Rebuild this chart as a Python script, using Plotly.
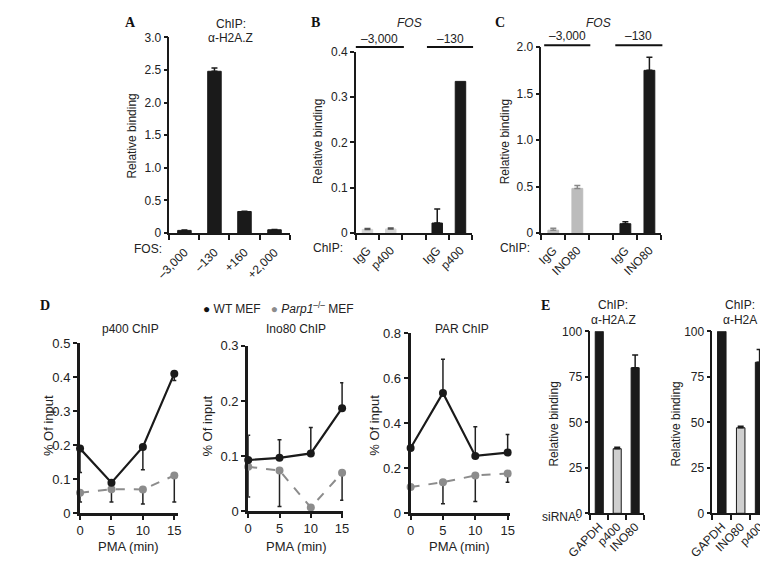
import plotly.graph_objects as go

W, H = 768, 561
def fx(p): return p / W
def fy(p): return 1 - p / H

SANS = "Liberation Sans, Arial, sans-serif"
SERIF = "Liberation Serif, Times New Roman, serif"
BLACK = "#1a1a1a"
LIGHT_B = "#d6d6d6"
LIGHT_C = "#bcbcbc"
LIGHT_E = "#cfcfcf"
GREY_LINE = "#8c8c8c"

# ---------------- data ----------------
a_labels = ["–3,000", "–130", "+160", "+2,000"]
a_vals = [0.04, 2.48, 0.33, 0.05]
a_err = [0.005, 0.05, 0.005, 0.005]

b_labels = ["IgG", "p400", "IgG", "p400"]
b_vals = [0.008, 0.009, 0.022, 0.335]
b_err = [0.002, 0.002, 0.031, 0.0]

c_labels = ["IgG", "INO80", "IgG", "INO80"]
c_vals = [0.03, 0.48, 0.10, 1.75]
c_err = [0.02, 0.03, 0.02, 0.14]

pma = [0, 5, 10, 15]
p400_wt = [0.19, 0.09, 0.195, 0.41]
p400_wt_errm = [0.07, 0.0, 0.067, 0.02]
p400_parp = [0.06, 0.071, 0.07, 0.111]
p400_parp_errm = [0.027, 0.038, 0.043, 0.078]

ino_wt = [0.093, 0.097, 0.105, 0.187]
ino_wt_errp = [0.045, 0.033, 0.047, 0.046]
ino_parp = [0.081, 0.074, 0.007, 0.07]
ino_parp_errm = [0.055, 0.065, 0.0, 0.05]

par_wt = [0.29, 0.535, 0.255, 0.27]
par_wt_errp = [0.0, 0.15, 0.13, 0.08]
par_parp = [0.117, 0.138, 0.168, 0.177]
par_parp_errm = [0.0, 0.095, 0.116, 0.039]

e1_labels = ["GAPDH", "p400", "INO80"]
e1_vals = [100, 35.5, 80]
e1_err = [0, 0.8, 7]
e2_labels = ["GAPDH", "INO80", "p400"]
e2_vals = [100, 47, 83]
e2_err = [0, 0.8, 7]

fig = go.Figure()

def gapped(n):
    # two groups of two with an empty slot between them
    return [i if i < 2 else i + 1 for i in range(n)]

def add_bars(xs, vals, errs, colors, err_colors, xa, ya, outline=None):
    for x, v, e, c, ec in zip(xs, vals, errs, colors, err_colors):
        fig.add_trace(go.Bar(
            x=[x], y=[v], width=0.45, xaxis=xa, yaxis=ya,
            marker=dict(color=c, line=dict(color=outline if (outline and c != BLACK) else c, width=1)),
            error_y=dict(type="data", array=[e], arrayminus=[0], symmetric=False,
                         color=ec, thickness=1.5, width=3, visible=e > 0),
            showlegend=False))

# A
xa_pos = list(range(len(a_vals)))
add_bars(xa_pos, a_vals, a_err, [BLACK]*4, [BLACK]*4, "x", "y")
# B
xb_pos = gapped(len(b_vals))
add_bars(xb_pos, b_vals, b_err, [LIGHT_B, LIGHT_B, BLACK, BLACK], ["#555", "#555", BLACK, BLACK], "x2", "y2")
# C
xc_pos = gapped(len(c_vals))
add_bars(xc_pos, c_vals, c_err, [LIGHT_C, LIGHT_C, BLACK, BLACK], ["#888", "#888", BLACK, BLACK], "x3", "y3")
# E
xe_pos = list(range(3))
add_bars(xe_pos, e1_vals, e1_err, [BLACK, LIGHT_E, BLACK], [BLACK]*3, "x7", "y7", outline=BLACK)
add_bars(xe_pos, e2_vals, e2_err, [BLACK, LIGHT_E, BLACK], [BLACK]*3, "x8", "y8", outline=BLACK)

# D line panels
def add_lines(wt, wt_p, wt_m, parp, parp_p, parp_m, xa, ya):
    fig.add_trace(go.Scatter(
        x=pma, y=parp, mode="lines+markers", xaxis=xa, yaxis=ya, cliponaxis=False,
        line=dict(color=GREY_LINE, width=2, dash="dash"),
        marker=dict(color=GREY_LINE, size=8),
        error_y=dict(type="data", array=parp_p, arrayminus=parp_m, symmetric=False,
                     color="#222", thickness=1.5, width=2),
        showlegend=False))
    fig.add_trace(go.Scatter(
        x=pma, y=wt, mode="lines+markers", xaxis=xa, yaxis=ya, cliponaxis=False,
        line=dict(color=BLACK, width=2.2),
        marker=dict(color=BLACK, size=8),
        error_y=dict(type="data", array=wt_p, arrayminus=wt_m, symmetric=False,
                     color="#222", thickness=1.5, width=2),
        showlegend=False))

zeros = [0, 0, 0, 0]
add_lines(p400_wt, zeros, p400_wt_errm, p400_parp, zeros, p400_parp_errm, "x4", "y4")
add_lines(ino_wt, ino_wt_errp, zeros, ino_parp, zeros, ino_parp_errm, "x5", "y5")
add_lines(par_wt, par_wt_errp, zeros, par_parp, zeros, par_parp_errm, "x6", "y6")

tickfont = dict(family=SANS, size=12, color="#222")

def bar_x(x0, x1, ya, tickvals, ticktext, rng, boundaries, standoff=4):
    return dict(domain=[fx(x0), fx(x1)], anchor=ya, range=rng, showgrid=False, zeroline=False,
                showline=True, linecolor=BLACK, linewidth=1.5,
                tickmode="array", tickvals=tickvals, ticktext=ticktext, tickangle=-45,
                ticks="outside", ticklen=0, tickfont=tickfont, ticklabelstandoff=standoff,
                minor=dict(tickmode="array", tickvals=boundaries, ticks="outside",
                           ticklen=5, tickwidth=1.5, tickcolor=BLACK))

def bar_y(y0, y1, xa, rng, tickvals, ticktext, lw=1.5):
    return dict(domain=[fy(y1), fy(y0)], anchor=xa, range=rng, showgrid=False, zeroline=False,
                showline=True, linecolor=BLACK, linewidth=lw,
                tickmode="array", tickvals=tickvals, ticktext=ticktext,
                ticks="outside", ticklen=4, tickwidth=1.5, tickcolor=BLACK, tickfont=tickfont)

def line_x(x0, x1, ya, rng):
    return dict(domain=[fx(x0), fx(x1)], anchor=ya, range=rng, showgrid=False, zeroline=False,
                showline=True, linecolor=BLACK, linewidth=3,
                tickmode="array", tickvals=pma, ticks="outside", ticklen=4, tickwidth=2,
                tickcolor=BLACK, tickfont=dict(family=SANS, size=13, color="#222"),
                ticklabelstandoff=-1)

def line_y(y0, y1, xa, rng, tickvals, ticktext):
    d = bar_y(y0, y1, xa, rng, tickvals, ticktext, lw=3)
    d["tickwidth"] = 2
    d["tickfont"] = dict(family=SANS, size=13, color="#222")
    return d

layout = dict(
    width=W, height=H, margin=dict(l=0, r=0, t=0, b=0),
    paper_bgcolor="white", plot_bgcolor="white", barmode="overlay",
    font=dict(family=SANS, color="#222"),
    xaxis=bar_x(143, 268, "y", xa_pos, a_labels, [-0.5, 3.5], [-0.5, 0.5, 1.5, 2.5, 3.5], standoff=6),
    yaxis=bar_y(23, 224, "x", [0, 3], [0, 0.5, 1, 1.5, 2, 2.5, 3], ["0", "0.5", "1.0", "1.5", "2.0", "2.5", "3.0"]),
    xaxis2=bar_x(337, 458, "y2", xb_pos, b_labels, [-0.5, 4.5], [-0.5, 0.5, 1.5, 2.5, 3.5, 4.5]),
    yaxis2=bar_y(38, 224, "x2", [0, 0.4], [0, 0.1, 0.2, 0.3, 0.4], ["0", "0.1", "0.2", "0.3", "0.4"]),
    xaxis3=bar_x(530, 655, "y3", xc_pos, c_labels, [-0.5, 4.5], [-0.5, 0.5, 1.5, 2.5, 3.5, 4.5]),
    yaxis3=bar_y(33, 224, "x3", [0, 2], [0, 0.5, 1, 1.5, 2], ["0", "0.5", "1.0", "1.5", "2.0"]),
    xaxis4=line_x(50, 152, "y4", [0, 15.6]),
    yaxis4=line_y(337, 512, "x4", [0, 0.5], [0, 0.1, 0.2, 0.3, 0.4, 0.5], ["0", "0.1", "0.2", "0.3", "0.4", "0.5"]),
    xaxis5=line_x(225, 324, "y5", [0, 15.2]),
    yaxis5=line_y(340, 510, "x5", [0, 0.3], [0, 0.1, 0.2, 0.3], ["0", "0.1", "0.2", "0.3"]),
    xaxis6=line_x(394, 497, "y6", [0, 15.3]),
    yaxis6=line_y(327, 512, "x6", [0, 0.8], [0, 0.2, 0.4, 0.6, 0.8], ["0", "0.2", "0.4", "0.6", "0.8"]),
    xaxis7=bar_x(581, 637, "y7", xe_pos, e1_labels, [-0.5, 2.5], [-0.5, 0.5, 1.5, 2.5], standoff=0),
    yaxis7=bar_y(325, 512, "x7", [0, 100], [0, 25, 50, 75, 100], ["0", "25", "50", "75", "100"]),
    xaxis8=bar_x(708, 767, "y8", xe_pos, e2_labels, [-0.5, 2.5], [-0.5, 0.5, 1.5, 2.5], standoff=0),
    yaxis8=bar_y(325, 512, "x8", [0, 100], [0, 25, 50, 75, 100], ["0", "25", "50", "75", "100"]),
)

anns = []
def ann(text, x, y, size=12, angle=0, xanchor="center", family=SANS, color="#222"):
    anns.append(dict(text=text, x=fx(x), y=fy(y), xref="paper", yref="paper", showarrow=False,
                     textangle=angle, xanchor=xanchor, yanchor="middle",
                     font=dict(family=family, size=size, color=color)))

# panel letters
for t, x, y in [("A", 103, 8), ("B", 295, 8), ("C", 487, 8), ("D", 14, 298), ("E", 534, 298)]:
    ann("<b>%s</b>" % t, x, y, size=14, family=SERIF, color="#111")

# A
ann("ChIP:", 207, 9)
ann("α-H2A.Z", 207, 24)
ann("Relative binding", 104, 124, angle=-90)
ann("FOS:", 137, 240, xanchor="right")
# B
ann("<i>FOS</i>", 393, 8)
ann("–3,000", 362, 25)
ann("–130", 435, 25)
ann("Relative binding", 297, 130, angle=-90)
ann("ChIP:", 326, 239, xanchor="right")
# C
ann("<i>FOS</i>", 590, 8)
ann("–3,000", 557, 22)
ann("–130", 631, 22)
ann("Relative binding", 492, 130, angle=-90)
ann("ChIP:", 520, 239, xanchor="right")
# D
ann("<span style='color:#111'>●</span> WT MEF   <span style='color:#8c8c8c'>●</span> <i>Parp1</i><sup>–/–</sup> MEF",
    176, 301, size=12, xanchor="left")
ann("p400 ChIP", 102, 323)
ann("Ino80 ChIP", 275, 323)
ann("PAR ChIP", 447, 323)
for x in (17, 183, 357):
    ann("% Of input", x, 422, angle=-90, size=13)
for x in (100, 275, 445):
    ann("PMA (min)", x, 546, size=13)
# E
ann("ChIP:", 605, 298)
ann("α-H2A.Z", 605, 313)
ann("ChIP:", 737, 298)
ann("α-H2A", 737, 313)
ann("Relative binding", 543, 420, angle=-90)
ann("Relative binding", 670, 420, angle=-90)
ann("siRNA:", 571, 516, xanchor="right")

layout["annotations"] = anns

shapes = []
for x0, x1, y in [(337, 387, 33), (411, 459, 33), (533, 581, 31), (607, 656, 31)]:
    shapes.append(dict(type="line", xref="paper", yref="paper", x0=fx(x0), x1=fx(x1),
                       y0=fy(y), y1=fy(y), line=dict(color="#111", width=2)))
layout["shapes"] = shapes

fig.update_layout(**layout)
fig.write_html("out.html")
